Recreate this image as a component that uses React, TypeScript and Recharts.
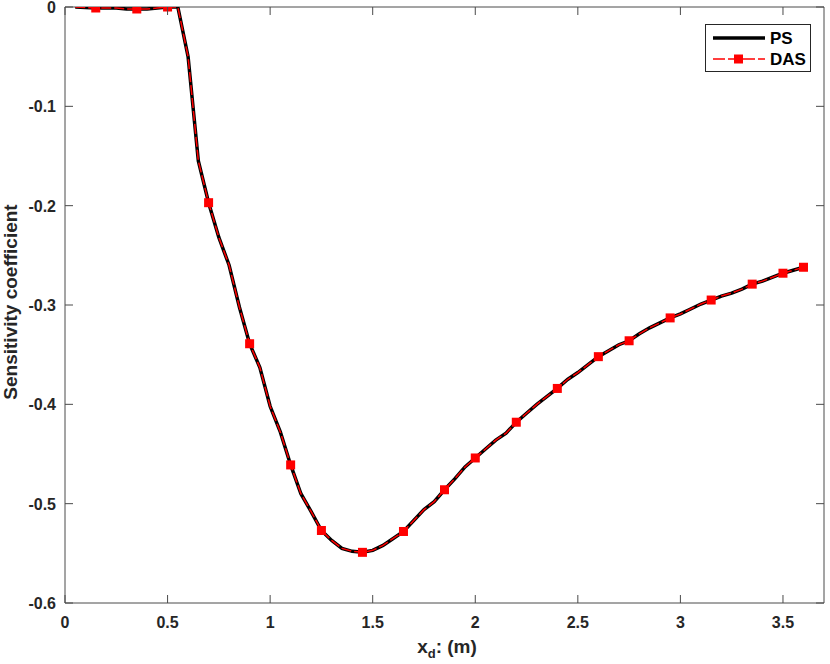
import React from "react";
import {
  LineChart,
  Line,
  XAxis,
  YAxis,
  ReferenceLine,
} from "recharts";

// ---- Data ----
const xValues = [
  0.05, 0.1, 0.15, 0.2, 0.25, 0.3, 0.35, 0.4, 0.45, 0.5,
  0.55, 0.6, 0.65, 0.7, 0.75, 0.8, 0.85, 0.9, 0.95, 1.0,
  1.05, 1.1, 1.15, 1.2, 1.25, 1.3, 1.35, 1.4, 1.45, 1.5,
  1.55, 1.6, 1.65, 1.7, 1.75, 1.8, 1.85, 1.9, 1.95, 2.0,
  2.05, 2.1, 2.15, 2.2, 2.25, 2.3, 2.35, 2.4, 2.45, 2.5,
  2.55, 2.6, 2.65, 2.7, 2.75, 2.8, 2.85, 2.9, 2.95, 3.0,
  3.05, 3.1, 3.15, 3.2, 3.25, 3.3, 3.35, 3.4, 3.45, 3.5,
  3.55, 3.6,
];

const psValues = [
  0.0, -0.0005, -0.001, -0.001, -0.001, -0.002, -0.002, -0.002, -0.001, 0.0,
  0.0, -0.05, -0.155, -0.197, -0.232, -0.26, -0.302, -0.339, -0.363, -0.402,
  -0.428, -0.461, -0.49, -0.508, -0.527, -0.537, -0.545, -0.548, -0.549, -0.547,
  -0.542, -0.535, -0.528, -0.517, -0.506, -0.498, -0.486, -0.475, -0.463, -0.454,
  -0.445, -0.436, -0.429, -0.418, -0.409, -0.4, -0.392, -0.384, -0.375, -0.368,
  -0.36, -0.352, -0.346, -0.34, -0.336, -0.329, -0.323, -0.318, -0.313, -0.309,
  -0.304, -0.299, -0.295, -0.291, -0.288, -0.284, -0.279, -0.276, -0.272, -0.268,
  -0.265, -0.262,
];

const dasValues = [
  0.0, -0.0005, -0.001, -0.001, -0.001, -0.002, -0.002, -0.002, -0.001, 0.0,
  0.0, -0.05, -0.155, -0.197, -0.232, -0.26, -0.302, -0.339, -0.363, -0.402,
  -0.428, -0.461, -0.49, -0.508, -0.527, -0.537, -0.545, -0.548, -0.549, -0.547,
  -0.542, -0.535, -0.528, -0.517, -0.506, -0.498, -0.486, -0.475, -0.463, -0.454,
  -0.445, -0.436, -0.429, -0.418, -0.409, -0.4, -0.392, -0.384, -0.375, -0.368,
  -0.36, -0.352, -0.346, -0.34, -0.336, -0.329, -0.323, -0.318, -0.313, -0.309,
  -0.304, -0.299, -0.295, -0.291, -0.288, -0.284, -0.279, -0.276, -0.272, -0.268,
  -0.265, -0.262,
];

const dasMarkerX = [
  0.15, 0.35, 0.5, 0.7, 0.9, 1.1, 1.25, 1.45, 1.65, 1.85,
  2.0, 2.2, 2.4, 2.6, 2.75, 2.95, 3.15, 3.35, 3.5, 3.6,
];

const xTicks = [0, 0.5, 1, 1.5, 2, 2.5, 3, 3.5];
const yTicks = [0, -0.1, -0.2, -0.3, -0.4, -0.5, -0.6];
const xDomain = [0, 3.7];
const yDomain = [-0.6, 0];
const seriesNames = ["PS", "DAS"];

const data = xValues.map((x, i) => ({ x, ps: psValues[i], das: dasValues[i] }));

// ---- Layout constants ----
const W = 830;
const H = 664;
const PLOT_LEFT = 65;
const PLOT_TOP = 7;
const PLOT_RIGHT = 824;
const PLOT_BOTTOM = 603;
const FONT = "'Liberation Sans', Arial, Helvetica, sans-serif";
const AXIS_COLOR = "#4a4a4a";
const TEXT_COLOR = "#262626";
const TICK_LEN = 8;

const XTick = (props: any) => {
  const { x, y, payload } = props;
  return (
    <g>
      <line x1={x} y1={y} x2={x} y2={y - TICK_LEN} stroke={AXIS_COLOR} strokeWidth={1} />
      <line x1={x} y1={PLOT_TOP} x2={x} y2={PLOT_TOP + TICK_LEN} stroke={AXIS_COLOR} strokeWidth={1} />
      <text
        x={x}
        y={y + 25}
        textAnchor="middle"
        fontFamily={FONT}
        fontWeight="bold"
        fontSize={16}
        fill={TEXT_COLOR}
      >
        {String(payload.value)}
      </text>
    </g>
  );
};

const YTick = (props: any) => {
  const { x, y, payload } = props;
  return (
    <g>
      <line x1={x} y1={y} x2={x + TICK_LEN} y2={y} stroke={AXIS_COLOR} strokeWidth={1} />
      <line x1={PLOT_RIGHT} y1={y} x2={PLOT_RIGHT - TICK_LEN} y2={y} stroke={AXIS_COLOR} strokeWidth={1} />
      <text
        x={x - 9}
        y={y + 6}
        textAnchor="end"
        fontFamily={FONT}
        fontWeight="bold"
        fontSize={16}
        fill={TEXT_COLOR}
      >
        {String(payload.value)}
      </text>
    </g>
  );
};

const DasDot = (props: any) => {
  const { cx, cy, payload, index } = props;
  const show = dasMarkerX.some((m) => Math.abs(m - payload.x) < 1e-6);
  if (!show || cx == null || cy == null) return <g key={`d${index}`} />;
  return <rect key={`d${index}`} x={cx - 4.5} y={cy - 4.5} width={9} height={9} fill="#ff0000" />;
};

const LegendBox = () => (
  <svg width={106} height={48} style={{ display: "block" }}>
    <rect x={0.5} y={0.5} width={105} height={47} fill="#ffffff" stroke="#262626" strokeWidth={1} />
    <line x1={8} y1={14} x2={60} y2={14} stroke="#000000" strokeWidth={3.5} />
    <text x={65} y={20} fontFamily={FONT} fontWeight="bold" fontSize={17} fill="#000">{seriesNames[0]}</text>
    <line x1={8} y1={35} x2={60} y2={35} stroke="#ff0000" strokeWidth={1.5} strokeDasharray="12 3" />
    <rect x={29} y={30.5} width={9} height={9} fill="#ff0000" />
    <text x={65} y={41} fontFamily={FONT} fontWeight="bold" fontSize={17} fill="#000">{seriesNames[1]}</text>
  </svg>
);

export default function App() {
  return (
    <div style={{ position: "absolute", left: 0, top: 0, width: W, height: H, background: "#fff" }}>
      <LineChart
        width={W}
        height={H}
        data={data}
        margin={{ top: PLOT_TOP, right: W - PLOT_RIGHT, left: 0, bottom: 0 }}
      >
        <XAxis
          dataKey="x"
          type="number"
          domain={xDomain}
          ticks={xTicks}
          interval={0}
          allowDataOverflow
          height={H - PLOT_BOTTOM}
          tickSize={0}
          tickMargin={0}
          tickLine={false}
          axisLine={{ stroke: AXIS_COLOR, strokeWidth: 1 }}
          tick={<XTick />}
          label={{
            position: "insideBottom",
            content: () => (
              <text
                x={447}
                y={653}
                textAnchor="middle"
                fontFamily={FONT}
                fontWeight="bold"
                fontSize={19}
                fill={TEXT_COLOR}
              >
                x<tspan dy={5} fontSize={13}>d</tspan>
                <tspan dy={-5}>: (m)</tspan>
              </text>
            ),
          }}
        />
        <YAxis
          type="number"
          domain={yDomain}
          ticks={yTicks}
          interval={0}
          allowDataOverflow
          width={PLOT_LEFT}
          tickSize={0}
          tickMargin={0}
          tickLine={false}
          axisLine={{ stroke: AXIS_COLOR, strokeWidth: 1 }}
          tick={<YTick />}
          label={{
            position: "insideLeft",
            content: () => (
              <text
                x={17}
                y={302}
                transform="rotate(-90, 17, 302)"
                textAnchor="middle"
                fontFamily={FONT}
                fontWeight="bold"
                fontSize={19}
                fill={TEXT_COLOR}
              >
                Sensitivity coefficient
              </text>
            ),
          }}
        />
        <ReferenceLine y={0} stroke={AXIS_COLOR} strokeWidth={1} />
        <ReferenceLine x={3.7} stroke={AXIS_COLOR} strokeWidth={1} />
        <Line
          type="linear"
          dataKey="ps"
          name={seriesNames[0]}
          stroke="#000000"
          strokeWidth={3.5}
          dot={false}
          activeDot={false}
          isAnimationActive={false}
        />
        <Line
          type="linear"
          dataKey="das"
          name={seriesNames[1]}
          stroke="#ff0000"
          strokeWidth={1.5}
          strokeDasharray="10 3"
          dot={<DasDot />}
          activeDot={false}
          isAnimationActive={false}
        />
      </LineChart>
      <div style={{ position: "absolute", left: 705, top: 24 }}>
        <LegendBox />
      </div>
    </div>
  );
}
